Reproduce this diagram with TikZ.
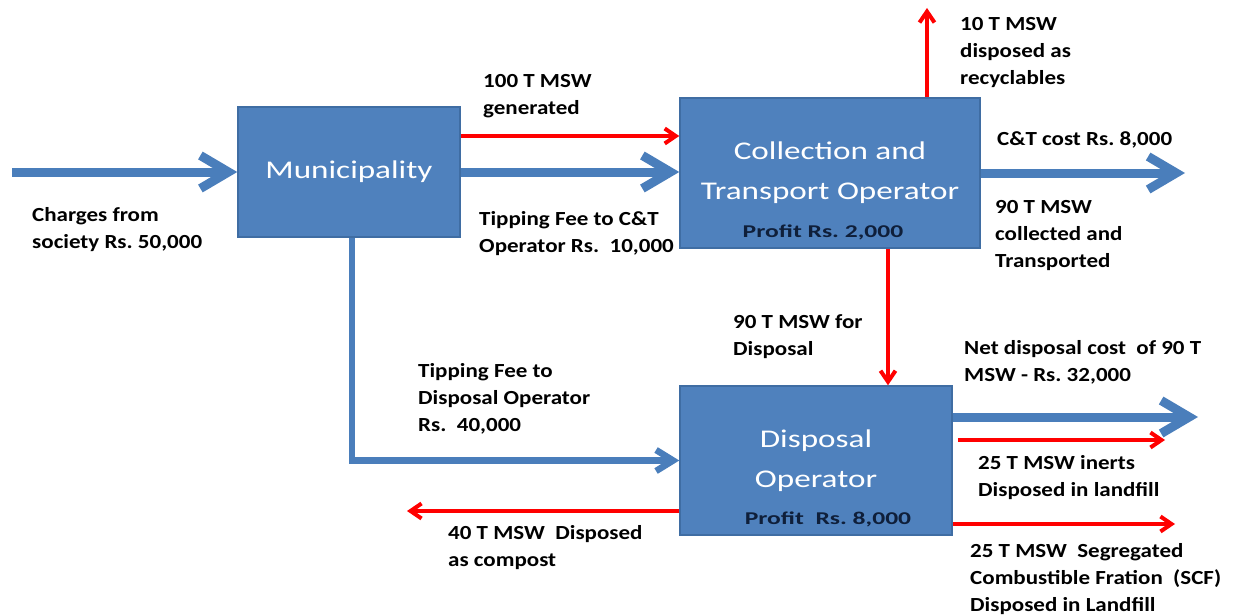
\documentclass[tikz,border=0pt]{standalone}
\usepackage{fontspec}
\setmainfont{Carlito}
\newfontfamily\labfont[FakeStretch=1.15]{Carlito}
\newfontfamily\boxfont[FakeStretch=1.3]{Carlito}
\newfontfamily\proffont[FakeStretch=1.42]{Carlito}
\usetikzlibrary{arrows.meta}
\definecolor{boxblue}{HTML}{4F81BD}
\definecolor{boxedge}{HTML}{3F6DA3}
\definecolor{arrblue}{HTML}{4A7EBB}
\definecolor{navy}{HTML}{0F1F3A}
\definecolor{arrred}{HTML}{FF0000}
\frenchspacing
\begin{document}
\begin{tikzpicture}[x=1pt,y=-1pt,
  procbox/.style={draw=boxedge, line width=1.5pt, fill=boxblue, text=white,
    font=\boxfont\fontsize{25.5}{40}\selectfont, align=center, inner sep=0},
  lab/.style={font=\labfont\bfseries\fontsize{20}{27}\selectfont, align=left,
    anchor=north west, inner sep=0, text=black},
  profit/.style={font=\proffont\bfseries\fontsize{18}{20}\selectfont, text=navy, inner sep=0},
  bigblue/.style={draw=arrblue, line width=9pt, -{Straight Barb[length=28pt,width=33pt]}},
  midblue/.style={draw=arrblue, line width=6.5pt, line join=miter, -{Straight Barb[length=17pt,width=21pt]}},
  redarr/.style={draw=arrred, line width=4pt, -{Straight Barb[length=11pt,width=15pt]}}
]
\useasboundingbox (0,0) rectangle (1234,615);

% boxes
\node[procbox, minimum width=222pt, minimum height=130pt] (muni) at (349,172) {Municipality};
\node[procbox, minimum width=300pt, minimum height=150pt] (ct) at (830,173) {Collection and\\Transport Operator};
\node[procbox, minimum width=272pt, minimum height=149pt] (dis) at (816,460.5) {Disposal\\Operator};
\node[profit] (ctp) at (823,232) {Profit Rs. 2,000};
\node[profit] (disp) at (828,519) {Profit~ Rs. 8,000};

% coordinates for free ends
\coordinate (src) at (12,172);
\coordinate (r1) at ([yshift=36pt]muni.east);
\coordinate (rec) at (927,8);
\coordinate (ctout) at (1185,173);
\coordinate (dn) at (888,0);
\coordinate (dout) at (1198,417);
\coordinate (inert) at (1165,440);
\coordinate (scf) at (1175,524);
\coordinate (cmp) at (407,511);

% connectors
\draw[bigblue] (src) -- (muni.west);
\draw[redarr] (r1) -- (r1 -| ct.west);
\draw[bigblue] (muni.east) -- (muni.east -| ct.west);
\draw[midblue] ([xshift=3pt]muni.south) |- (dis.west);
\draw[redarr] (rec |- ct.north) -- (rec);
\draw[bigblue] (ct.east) -- (ctout);
\draw[redarr] (dn |- ct.south) -- (dn |- dis.north);
\draw[bigblue] (dout -| dis.east) -- (dout);
\draw[redarr] ([xshift=5pt]inert -| dis.east) -- (inert);
\draw[redarr] (scf -| dis.east) -- (scf);
\draw[redarr] (cmp -| dis.west) -- (cmp);

% labels
\node[lab] (l1) at (32,207) {Charges from\\society Rs. 50,000};
\node[lab] (l2) at (483,74) {100 T MSW\\generated};
\node[lab] (l3) at (479,211) {Tipping Fee to C\&T\\Operator Rs.~ 10,000};
\node[lab] (l4) at (960,17) {10 T MSW\\disposed as\\recyclables};
\node[lab] (l5) at (997,131) {C\&T cost Rs. 8,000};
\node[lab] (l6) at (995,200) {90 T MSW\\collected and\\Transported};
\node[lab] (l7) at (733,314) {90 T MSW for\\Disposal};
\node[lab] (l8) at (418,363) {Tipping Fee to\\Disposal Operator\\Rs.~ 40,000};
\node[lab] (l9) at (964,340) {Net disposal cost~ of 90 T\\MSW - Rs. 32,000};
\node[lab] (l10) at (978,455) {25 T MSW inerts\\Disposed in landfill};
\node[lab] (l11) at (448,525) {40 T MSW~ Disposed\\as compost};
\node[lab] (l12) at (970,543) {25 T MSW~ Segregated\\Combustible Fration~ (SCF)\\Disposed in Landfill};
\end{tikzpicture}
\end{document}
